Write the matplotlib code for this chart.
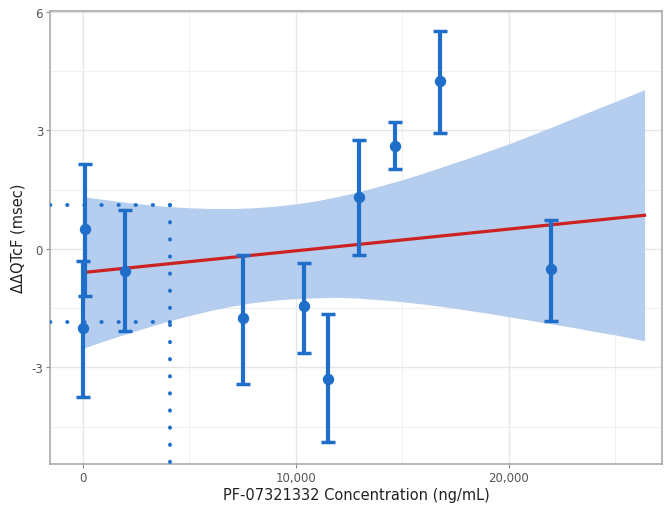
import matplotlib.pyplot as plt
from matplotlib.ticker import FuncFormatter, MultipleLocator

# point estimates with 90% CI
conc = [100, 0, 1950, 7500, 10400, 11500, 12970, 14650, 16750, 21970]
ddqtcf = [0.50, -2.00, -0.56, -1.75, -1.45, -3.30, 1.32, 2.61, 4.24, -0.52]
ci_low = [-1.20, -3.75, -2.08, -3.42, -2.65, -4.90, -0.15, 2.03, 2.93, -1.83]
ci_high = [2.15, -0.30, 0.99, -0.15, -0.35, -1.65, 2.76, 3.21, 5.52, 0.73]

# regression line and its confidence band
fit_x = [0, 26370]
fit_y = [-0.60, 0.85]
band_x = [0, 1000, 2000, 3000, 4000, 5000, 6000, 7000, 8000, 9000, 10000,
          11000, 12000, 13000, 14000, 15000, 16000, 17000, 18000, 19000,
          20000, 21000, 22000, 23000, 24000, 25000, 26370]
band_low = [-2.52, -2.33, -2.16, -1.99, -1.83, -1.69, -1.56, -1.45, -1.36,
            -1.30, -1.26, -1.24, -1.23, -1.25, -1.29, -1.34, -1.40, -1.47,
            -1.55, -1.63, -1.72, -1.81, -1.90, -1.99, -2.09, -2.18, -2.33]
band_high = [1.32, 1.25, 1.18, 1.12, 1.07, 1.04, 1.02, 1.02, 1.04, 1.08,
             1.14, 1.22, 1.33, 1.45, 1.60, 1.75, 1.92, 2.10, 2.28, 2.47,
             2.66, 2.87, 3.08, 3.30, 3.52, 3.73, 4.03]

# reference lines at Cmax
cmax = 4100
cmax_high = 1.10
cmax_low = -1.85

blue = "#1f6fca"
fig = plt.figure(figsize=(6.64, 5.06), dpi=100)
ax = fig.add_axes([0.0753, 0.081, 0.922, 0.895])

ax.fill_between(band_x, band_low, band_high, color="#b5cdee", lw=0, zorder=1)
ax.plot(fit_x, fit_y, color="#cc2222", lw=2.3, zorder=3)

dots = dict(color=blue, lw=2.8, linestyle=(0, (0.1, 4.3)),
            dash_capstyle="round", zorder=3)
ax.plot([-1550, cmax], [cmax_high, cmax_high], **dots)
ax.plot([-1550, cmax], [cmax_low, cmax_low], **dots)
ax.plot([cmax, cmax], [cmax_high, -5.45], **dots)

yerr = [[m - lo for m, lo in zip(ddqtcf, ci_low)],
        [hi - m for m, hi in zip(ddqtcf, ci_high)]]
ax.errorbar(conc, ddqtcf, yerr=yerr, fmt="o", color=blue, ms=7.2,
            elinewidth=3, capsize=5, capthick=2.5, zorder=4)

ax.set_xlim(-1550, 27200)
ax.set_ylim(-5.45, 6.02)
ax.xaxis.set_major_locator(MultipleLocator(10000))
ax.xaxis.set_minor_locator(MultipleLocator(5000))
ax.yaxis.set_major_locator(MultipleLocator(3))
ax.yaxis.set_minor_locator(MultipleLocator(1.5))
ax.xaxis.set_major_formatter(FuncFormatter(lambda v, p: f"{v:,.0f}"))
ax.yaxis.set_major_formatter(FuncFormatter(lambda v, p: f"{v:.0f}"))

ax.grid(which="major", color="#e6e6e6", lw=1.0, zorder=0)
ax.grid(which="minor", color="#f0f0f0", lw=0.8, zorder=0)
ax.set_axisbelow(True)
ax.tick_params(which="major", length=3, color="#888888", labelcolor="#555555",
               labelsize=8.5, pad=2)
ax.tick_params(which="minor", length=0)
for s in ax.spines.values():
    s.set_color("#aaaaaa")
    s.set_linewidth(1.2)

ax.set_xlabel("PF-07321332 Concentration (ng/mL)", fontsize=10.5,
              color="#222222", labelpad=2)
ax.set_ylabel("ΔΔQTcF (msec)", fontsize=10.5, color="#222222", labelpad=4)

fig.savefig("out.png", dpi=100)
